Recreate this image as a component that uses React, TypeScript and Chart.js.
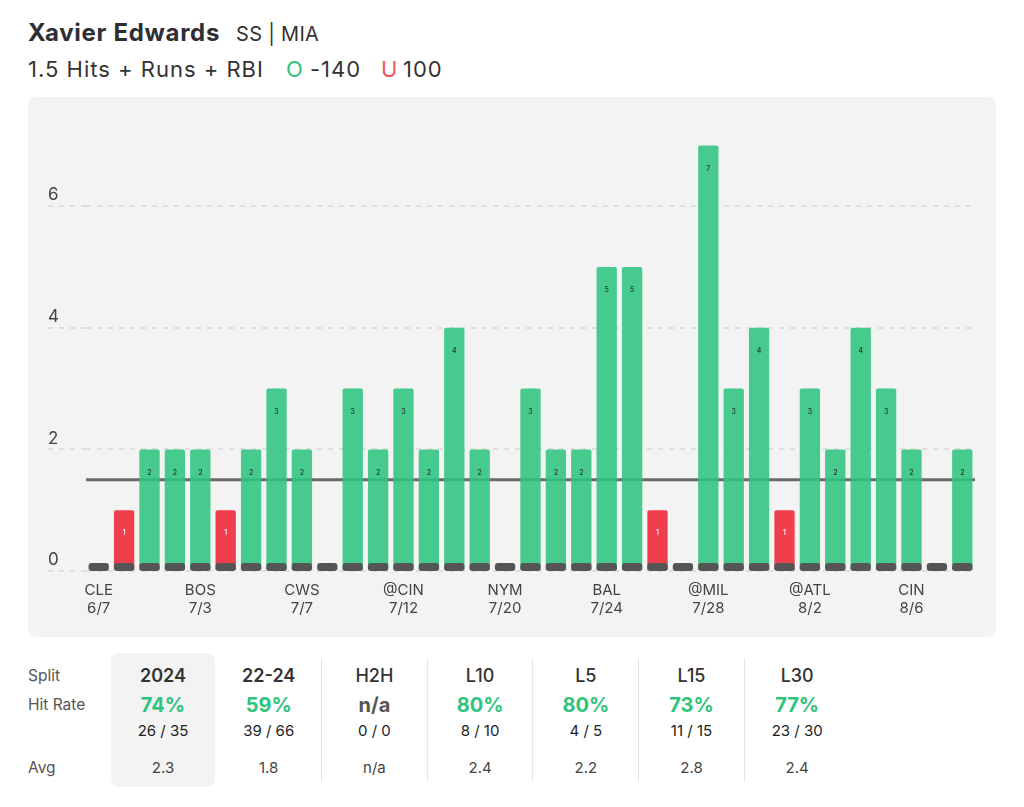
import React, { useEffect, useRef } from 'react';
import { Chart, registerables } from 'chart.js';

Chart.register(...registerables);

// ---- data ----
const gameValues = [0, 1, 2, 2, 2, 1, 2, 3, 2, 0, 3, 2, 3, 2, 4, 2, 0, 3, 2, 2, 5, 5, 1, 0, 7, 3, 4, 1, 3, 2, 4, 3, 2, 0, 2];
const labelTeams = ['CLE', 'BOS', 'CWS', '@CIN', 'NYM', 'BAL', '@MIL', '@ATL', 'CIN'];
const labelDates = ['6/7', '7/3', '7/7', '7/12', '7/20', '7/24', '7/28', '8/2', '8/6'];
const LABEL_EVERY = 4;
const propLine = 1.5;
const yTickValues = [0, 2, 4, 6];
const yMax = 7.5;

const splitNames = ['2024', '22-24', 'H2H', 'L10', 'L5', 'L15', 'L30'];
const splitRates = ['74%', '59%', 'n/a', '80%', '80%', '73%', '77%'];
const splitFractions = ['26 / 35', '39 / 66', '0 / 0', '8 / 10', '4 / 5', '11 / 15', '23 / 30'];
const splitAvgs = ['2.3', '1.8', 'n/a', '2.4', '2.2', '2.8', '2.4'];

const FONT = 'Inter, "Noto Sans", sans-serif';
const GREEN = 'rgba(46,196,126,0.88)';
const RED = 'rgba(238,52,66,0.95)';
const GREEN_TEXT = '#2fc47c';

const categories = gameValues.map((_, i) => `G${i + 1}`);

const overlayPlugin = {
  id: 'overlay',
  beforeDatasetsDraw(chart: any) {
    const { ctx, chartArea, scales } = chart;
    const y = scales.y.getPixelForValue(propLine);
    ctx.save();
    ctx.strokeStyle = '#6a6a6a';
    ctx.lineWidth = 3;
    ctx.beginPath();
    ctx.moveTo(chartArea.left, y);
    ctx.lineTo(chartArea.right, y);
    ctx.stroke();
    ctx.restore();
  },
  afterDatasetsDraw(chart: any) {
    const { ctx, scales } = chart;
    const meta = chart.getDatasetMeta(0);
    const y0 = scales.y.getPixelForValue(0);
    const yStub = scales.y.getPixelForValue(0.13);
    ctx.save();
    meta.data.forEach((bar: any, i: number) => {
      const w = bar.width;
      const x = bar.x - w / 2;
      ctx.fillStyle = '#555555';
      ctx.beginPath();
      (ctx as any).roundRect(x, yStub, w, y0 - yStub, 3);
      ctx.fill();
      const v = gameValues[i];
      if (v > 0) {
        ctx.fillStyle = v > propLine ? '#1f3a2c' : '#ffffff';
        ctx.font = `500 7px ${FONT}`;
        ctx.textAlign = 'center';
        ctx.textBaseline = 'middle';
        ctx.fillText(String(v), bar.x, bar.y + 23);
      }
    });
    ctx.restore();
  },
};

function ChartPanel() {
  const ref = useRef<HTMLCanvasElement | null>(null);
  useEffect(() => {
    if (!ref.current) return;
    const chart = new Chart(ref.current, {
      type: 'bar',
      data: {
        labels: categories,
        datasets: [
          {
            data: gameValues,
            backgroundColor: gameValues.map((v) => (v > propLine ? GREEN : RED)),
            borderRadius: 2,
            borderSkipped: 'bottom',
            barPercentage: 0.8,
            categoryPercentage: 1,
          },
        ],
      },
      options: {
        animation: false,
        responsive: false,
        layout: { padding: { left: 20, right: 21, top: 18, bottom: 0 } },
        plugins: { legend: { display: false }, tooltip: { enabled: false } },
        scales: {
          x: {
            grid: { display: false, drawTicks: false },
            border: { display: false },
            afterFit: (s: any) => {
              s.height = 66;
            },
            ticks: {
              autoSkip: false,
              maxRotation: 0,
              padding: 10,
              color: '#444',
              font: { family: FONT, size: 15 },
              callback: (_v: any, i: number) =>
                i % LABEL_EVERY === 0 ? [labelTeams[i / LABEL_EVERY], labelDates[i / LABEL_EVERY]] : '',
            },
          },
          y: {
            min: 0,
            max: yMax,
            afterBuildTicks: (s: any) => {
              s.ticks = yTickValues.map((v) => ({ value: v }));
            },
            afterFit: (s: any) => {
              s.width = 38;
            },
            border: { display: false, dash: [5, 6] },
            grid: {
              color: '#dedede',
              lineWidth: 2,
              tickBorderDash: [5, 6],
              tickLength: 38,
              tickColor: '#dedede',
              tickWidth: 2,
            },
            ticks: {
              crossAlign: 'far',
              labelOffset: -11,
              color: '#444',
              font: { family: FONT, size: 17 },
              callback: (v: any) => String(v),
            },
          },
        },
      },
      plugins: [overlayPlugin],
    } as any);
    return () => chart.destroy();
  }, []);
  return (
    <canvas
      ref={ref}
      width={968}
      height={540}
      style={{ position: 'absolute', left: 28, top: 97, width: 968, height: 540 }}
    />
  );
}

const abs = (left: number, top: number, extra: React.CSSProperties = {}): React.CSSProperties => ({
  position: 'absolute',
  left,
  top,
  whiteSpace: 'nowrap',
  ...extra,
});

export default function App() {
  const colCenters = splitNames.map((_, i) => 163 + i * 105.7);
  const separators = [321, 427, 532, 638, 744];
  const center = (cx: number, top: number, extra: React.CSSProperties) =>
    abs(cx - 60, top, { width: 120, textAlign: 'center', ...extra });
  const sub: React.CSSProperties = { fontSize: 22, fontWeight: 400, color: '#333', lineHeight: '28px', letterSpacing: 1 };
  return (
    <div style={{ position: 'absolute', left: 0, top: 0, width: 1024, height: 807, background: '#fff', fontFamily: FONT, overflow: 'hidden' }}>
      <div style={abs(28, 18, { fontSize: 24, fontWeight: 700, color: '#2e2e34', lineHeight: '30px', letterSpacing: 0.7 })}>Xavier Edwards</div>
      <div style={abs(236, 21, { fontSize: 20, fontWeight: 400, color: '#333', lineHeight: '26px', letterSpacing: 0.3 })}>SS | MIA</div>
      <div style={abs(28, 55, sub)}>1.5 Hits + Runs + RBI</div>
      <div style={abs(286, 55, { ...sub, color: GREEN_TEXT })}>O</div>
      <div style={abs(310, 55, sub)}>-140</div>
      <div style={abs(381, 55, { ...sub, color: '#ef5560' })}>U</div>
      <div style={abs(403, 55, sub)}>100</div>

      <div style={abs(28, 97, { width: 968, height: 540, background: '#f3f3f3', borderRadius: 8 })} />
      <ChartPanel />

      <div style={abs(111, 653, { width: 104, height: 134, background: '#f3f3f3', borderRadius: 8 })} />
      {separators.map((x) => (
        <div key={x} style={abs(x, 658, { width: 1, height: 124, background: '#e6e6e6' })} />
      ))}
      <div style={abs(28, 666, { fontSize: 15.5, color: '#555', lineHeight: '20px' })}>Split</div>
      <div style={abs(28, 695, { fontSize: 15.5, color: '#555', lineHeight: '20px' })}>Hit Rate</div>
      <div style={abs(28, 758, { fontSize: 15.5, color: '#555', lineHeight: '20px' })}>Avg</div>
      {splitNames.map((n, i) => (
        <React.Fragment key={n}>
          <div style={center(colCenters[i], 664, { fontSize: 18, fontWeight: i < 2 ? 600 : 500, color: '#333', lineHeight: '24px' })}>{n}</div>
          <div
            style={center(colCenters[i], 692, {
              fontSize: 20,
              fontWeight: 700,
              color: splitRates[i] === 'n/a' ? '#555' : GREEN_TEXT,
              lineHeight: '26px',
            })}
          >
            {splitRates[i]}
          </div>
          <div style={center(colCenters[i], 721, { fontSize: 15, color: '#222', lineHeight: '20px' })}>{splitFractions[i]}</div>
          <div style={center(colCenters[i], 758, { fontSize: 15, color: '#444', lineHeight: '20px' })}>{splitAvgs[i]}</div>
        </React.Fragment>
      ))}
    </div>
  );
}
